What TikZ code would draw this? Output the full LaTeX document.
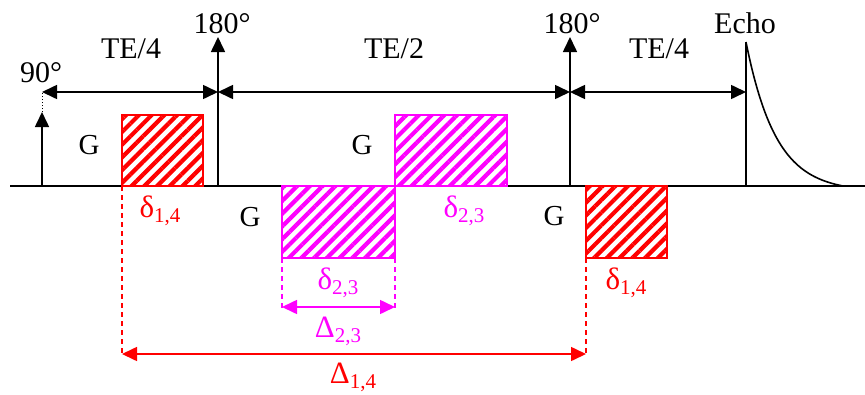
\documentclass[tikz,border=0pt]{standalone}
\usepackage{fontspec}
\setmainfont{Liberation Serif}
\usetikzlibrary{arrows.meta,patterns.meta}
\definecolor{mag}{RGB}{255,0,255}
\newcommand\subs[1]{\raisebox{-5pt}{\fontsize{21}{22}\selectfont #1}}
\tikzset{
  big/.style={font=\fontsize{30}{32}\selectfont, inner sep=0pt, anchor=base},
  gl/.style={font=\fontsize{29}{30}\selectfont, inner sep=0pt, anchor=base},
  gr/.style={font=\fontsize{31}{32}\selectfont, inner sep=0pt, anchor=base},
  ln/.style={line width=1.6pt},
  tipend/.style={-{Triangle[length=15pt,width=14pt]}},
  dtip/.style={{Triangle[length=15pt,width=14pt]}-{Triangle[length=15pt,width=14pt]}},
  gbox/.style={draw=#1, line width=1.6pt, inner sep=0pt, outer sep=0pt,
    pattern={Lines[angle=45,distance=9pt,line width=4.2pt]}, pattern color=#1},
  dimline/.style={line width=1.4pt, dash pattern=on 5pt off 4pt},
}
\begin{document}
\begin{tikzpicture}[x=1pt,y=-1pt]
\useasboundingbox (0,0) rectangle (865,394);
% baseline
\coordinate (bl) at (10,186);
\coordinate (br) at (865,186);
\draw[ln] (bl) -- (br);
% 90 pulse
\coordinate (p90) at (42,186);
\coordinate (p90t) at (42,112);
\coordinate (t90) at (42,92);
\draw[ln,tipend] (p90) -- (p90t);
\draw[line width=1pt, dotted] (p90t) -- (t90);
\node[big] (l90) at (41,82) {90°};
% 180 pulses
\coordinate (pa) at (218,186);
\coordinate (pat) at (218,37);
\coordinate (ta) at (218,92);
\draw[ln,tipend] (pa) -- (pat);
\node[big] (la) at (222,33) {180°};
\coordinate (pb) at (570,186);
\coordinate (pbt) at (570,37);
\coordinate (tb) at (570,92);
\draw[ln,tipend] (pb) -- (pbt);
\node[big] (lb) at (572,33) {180°};
% echo
\coordinate (pe) at (746,186);
\coordinate (pet) at (746,42);
\coordinate (te) at (746,92);
\draw[ln] (pe) -- (pet);
\draw[ln] plot[domain=0:97, samples=60, smooth] ({746+\x},{186-144*(exp(-\x/30)-0.0394)/0.9606});
\node[big] (le) at (745,33) {Echo};
% timing arrows
\draw[ln,dtip] (t90) -- (ta);
\draw[ln,dtip] (ta) -- (tb);
\draw[ln,dtip] (tb) -- (te);
\node[big] (te1) at (131,58) {TE/4};
\node[big] (te2) at (394,58) {TE/2};
\node[big] (te3) at (659,58) {TE/4};
% gradient boxes
\node[gbox=red, minimum width=81pt, minimum height=71pt, anchor=north west] (r1) at (122,115) {};
\node[gbox=mag, minimum width=113pt, minimum height=72pt, anchor=north west] (m2) at (282,186) {};
\node[gbox=mag, minimum width=112pt, minimum height=71pt, anchor=north west] (m1) at (395,115) {};
\node[gbox=red, minimum width=81pt, minimum height=72pt, anchor=north west] (r2) at (586,186) {};
% G labels
\node[gl] (g1) at (89,154) {G};
\node[gl] (g2) at (250,226) {G};
\node[gl] (g3) at (362,154) {G};
\node[gl] (g4) at (554,225) {G};
% delta labels
\node[gr, text=red] (d1) at (160,217) {δ\subs{1,4}};
\node[gr, text=mag] (d2) at (464,217) {δ\subs{2,3}};
\node[gr, text=mag] (d3) at (338,289) {δ\subs{2,3}};
\node[gr, text=red] (d4) at (626,289) {δ\subs{1,4}};
% magenta dimension
\coordinate (ma) at (282,308);
\coordinate (mb) at (395,308);
\draw[mag,dimline] (m2.south west) -- (ma);
\draw[mag,dimline] (m2.south east) -- (mb);
\draw[mag,line width=1.6pt,dtip] (282,307) -- (395,307);
\node[gr, text=mag] (D23) at (338,337) {Δ\subs{2,3}};
% red dimension
\coordinate (ra) at (122,354);
\coordinate (rb) at (586,354);
\draw[red,dimline] (r1.south west) -- (ra);
\draw[red,dimline] (r2.south west) -- (rb);
\draw[red,line width=1.6pt,dtip] (ra) -- (rb);
\node[gr, text=red] (D14) at (353,383) {Δ\subs{1,4}};
\end{tikzpicture}
\end{document}
